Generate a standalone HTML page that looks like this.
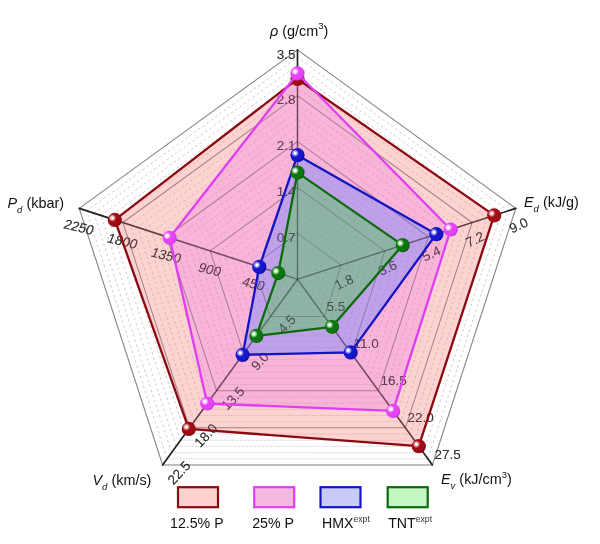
<!DOCTYPE html>
<html><head><meta charset="utf-8"><title>Radar</title>
<style>html,body{margin:0;padding:0;background:#fff}svg{display:block}text{font-family:"Liberation Sans",sans-serif}</style></head><body>
<svg width="600" height="544" viewBox="0 0 600 544">
<defs>
<radialGradient id="gr" cx="0.33" cy="0.36" r="0.75" fx="0.33" fy="0.36"><stop offset="0" stop-color="#ffffff"/><stop offset="0.07" stop-color="#ffffff"/><stop offset="0.19" stop-color="#e8a0a4"/><stop offset="0.36" stop-color="#a00c16"/><stop offset="0.72" stop-color="#a00c16"/><stop offset="1" stop-color="#7a0008"/></radialGradient>
<radialGradient id="gm" cx="0.33" cy="0.36" r="0.75" fx="0.33" fy="0.36"><stop offset="0" stop-color="#ffffff"/><stop offset="0.07" stop-color="#ffffff"/><stop offset="0.19" stop-color="#fbc4ff"/><stop offset="0.36" stop-color="#e443f6"/><stop offset="0.72" stop-color="#e443f6"/><stop offset="1" stop-color="#c52ada"/></radialGradient>
<radialGradient id="gb" cx="0.33" cy="0.36" r="0.75" fx="0.33" fy="0.36"><stop offset="0" stop-color="#ffffff"/><stop offset="0.07" stop-color="#ffffff"/><stop offset="0.19" stop-color="#a8a8f4"/><stop offset="0.36" stop-color="#1616cc"/><stop offset="0.72" stop-color="#1616cc"/><stop offset="1" stop-color="#08088c"/></radialGradient>
<radialGradient id="gg" cx="0.33" cy="0.36" r="0.75" fx="0.33" fy="0.36"><stop offset="0" stop-color="#ffffff"/><stop offset="0.07" stop-color="#ffffff"/><stop offset="0.19" stop-color="#a4d8a4"/><stop offset="0.36" stop-color="#0e760e"/><stop offset="0.72" stop-color="#0e760e"/><stop offset="1" stop-color="#055205"/></radialGradient>
</defs>
<rect width="600" height="544" fill="#ffffff"/>
<g fill="none" stroke="rgba(90,90,90,0.21)" stroke-width="1">
<path d="M290.22,276.94 L297.50,271.65 L304.78,276.94 L302.00,285.49 M293.00,285.49 L290.22,276.94" stroke-dasharray="2.6 2.7"/>
<path d="M293.00,285.49 L302.00,285.49" stroke-dasharray="1.5 1.2"/>
<path d="M282.95,274.57 L297.50,264.00 L312.05,274.57 L306.49,291.68 M288.51,291.68 L282.95,274.57" stroke-dasharray="2.6 2.7"/>
<path d="M288.51,291.68 L306.49,291.68" stroke-dasharray="1.5 1.2"/>
<path d="M275.67,272.21 L297.50,256.35 L319.33,272.21 L310.99,297.87 M284.01,297.87 L275.67,272.21" stroke-dasharray="2.6 2.7"/>
<path d="M284.01,297.87 L310.99,297.87" stroke-dasharray="1.5 1.2"/>
<path d="M268.40,269.84 L297.50,248.70 L326.60,269.84 L315.49,304.06 M279.51,304.06 L268.40,269.84" stroke-dasharray="2.6 2.7"/>
<path d="M279.51,304.06 L315.49,304.06" stroke-dasharray="1.5 1.2"/>
<path d="M261.12,267.48 L297.50,241.05 L333.88,267.48 L319.98,310.24 M275.02,310.24 L261.12,267.48" stroke-dasharray="2.6 2.7"/>
<path d="M275.02,310.24 L319.98,310.24" stroke-dasharray="1.5 1.2"/>
<path d="M246.57,262.75 L297.50,225.75 L348.43,262.75 L328.98,322.62 M266.02,322.62 L246.57,262.75" stroke-dasharray="2.6 2.7"/>
<path d="M266.02,322.62 L328.98,322.62" stroke-dasharray="1.5 1.2"/>
<path d="M239.30,260.39 L297.50,218.10 L355.70,260.39 L333.47,328.81 M261.53,328.81 L239.30,260.39" stroke-dasharray="2.6 2.7"/>
<path d="M261.53,328.81 L333.47,328.81" stroke-dasharray="1.5 1.2"/>
<path d="M232.02,258.02 L297.50,210.45 L362.98,258.02 L337.97,335.00 M257.03,335.00 L232.02,258.02" stroke-dasharray="2.6 2.7"/>
<path d="M257.03,335.00 L337.97,335.00" stroke-dasharray="1.5 1.2"/>
<path d="M224.74,255.66 L297.50,202.80 L370.26,255.66 L342.47,341.19 M252.53,341.19 L224.74,255.66" stroke-dasharray="2.6 2.7"/>
<path d="M252.53,341.19 L342.47,341.19" stroke-dasharray="1.5 1.2"/>
<path d="M217.47,253.30 L297.50,195.15 L377.53,253.30 L346.96,347.38 M248.04,347.38 L217.47,253.30" stroke-dasharray="2.6 2.7"/>
<path d="M248.04,347.38 L346.96,347.38" stroke-dasharray="1.5 1.2"/>
<path d="M202.92,248.57 L297.50,179.85 L392.08,248.57 L355.96,359.76 M239.04,359.76 L202.92,248.57" stroke-dasharray="2.6 2.7"/>
<path d="M239.04,359.76 L355.96,359.76" stroke-dasharray="1.5 1.2"/>
<path d="M195.64,246.20 L297.50,172.20 L399.36,246.20 L360.45,365.95 M234.55,365.95 L195.64,246.20" stroke-dasharray="2.6 2.7"/>
<path d="M234.55,365.95 L360.45,365.95" stroke-dasharray="1.5 1.2"/>
<path d="M188.37,243.84 L297.50,164.55 L406.63,243.84 L364.95,372.13 M230.05,372.13 L188.37,243.84" stroke-dasharray="2.6 2.7"/>
<path d="M230.05,372.13 L364.95,372.13" stroke-dasharray="1.5 1.2"/>
<path d="M181.09,241.48 L297.50,156.90 L413.91,241.48 L369.44,378.32 M225.56,378.32 L181.09,241.48" stroke-dasharray="2.6 2.7"/>
<path d="M225.56,378.32 L369.44,378.32" stroke-dasharray="1.5 1.2"/>
<path d="M173.82,239.11 L297.50,149.25 L421.18,239.11 L373.94,384.51 M221.06,384.51 L173.82,239.11" stroke-dasharray="2.6 2.7"/>
<path d="M221.06,384.51 L373.94,384.51" stroke-dasharray="1.5 1.2"/>
<path d="M159.26,234.38 L297.50,133.95 L435.74,234.38 L382.93,396.89 M212.07,396.89 L159.26,234.38" stroke-dasharray="2.6 2.7"/>
<path d="M212.07,396.89 L382.93,396.89" stroke-dasharray="1.5 1.2"/>
<path d="M151.99,232.02 L297.50,126.30 L443.01,232.02 L387.43,403.08 M207.57,403.08 L151.99,232.02" stroke-dasharray="2.6 2.7"/>
<path d="M207.57,403.08 L387.43,403.08" stroke-dasharray="1.5 1.2"/>
<path d="M144.71,229.66 L297.50,118.65 L450.29,229.66 L391.93,409.27 M203.07,409.27 L144.71,229.66" stroke-dasharray="2.6 2.7"/>
<path d="M203.07,409.27 L391.93,409.27" stroke-dasharray="1.5 1.2"/>
<path d="M137.44,227.29 L297.50,111.00 L457.56,227.29 L396.42,415.46 M198.58,415.46 L137.44,227.29" stroke-dasharray="2.6 2.7"/>
<path d="M198.58,415.46 L396.42,415.46" stroke-dasharray="1.5 1.2"/>
<path d="M130.16,224.93 L297.50,103.35 L464.84,224.93 L400.92,421.65 M194.08,421.65 L130.16,224.93" stroke-dasharray="2.6 2.7"/>
<path d="M194.08,421.65 L400.92,421.65" stroke-dasharray="1.5 1.2"/>
<path d="M115.61,220.20 L297.50,88.05 L479.39,220.20 L409.91,434.02 M185.09,434.02 L115.61,220.20" stroke-dasharray="2.6 2.7"/>
<path d="M185.09,434.02 L409.91,434.02" stroke-dasharray="1.5 1.2"/>
<path d="M108.33,217.84 L297.50,80.40 L486.67,217.84 L414.41,440.21 M180.59,440.21 L108.33,217.84" stroke-dasharray="2.6 2.7"/>
<path d="M180.59,440.21 L414.41,440.21" stroke-dasharray="1.5 1.2"/>
<path d="M101.06,215.47 L297.50,72.75 L493.94,215.47 L418.91,446.40 M176.09,446.40 L101.06,215.47" stroke-dasharray="2.6 2.7"/>
<path d="M176.09,446.40 L418.91,446.40" stroke-dasharray="1.5 1.2"/>
<path d="M93.78,213.11 L297.50,65.10 L501.22,213.11 L423.40,452.59 M171.60,452.59 L93.78,213.11" stroke-dasharray="2.6 2.7"/>
<path d="M171.60,452.59 L423.40,452.59" stroke-dasharray="1.5 1.2"/>
<path d="M86.51,210.74 L297.50,57.45 L508.49,210.74 L427.90,458.78 M167.10,458.78 L86.51,210.74" stroke-dasharray="2.6 2.7"/>
<path d="M167.10,458.78 L427.90,458.78" stroke-dasharray="1.5 1.2"/>
</g>
<g fill="none" stroke="rgba(60,60,60,0.50)" stroke-width="1.05">
<polygon points="297.50,233.40 341.15,265.12 324.48,316.43 270.52,316.43 253.85,265.12"/>
<polygon points="297.50,187.50 384.81,250.93 351.46,353.57 243.54,353.57 210.19,250.93"/>
<polygon points="297.50,141.60 428.46,236.75 378.44,390.70 216.56,390.70 166.54,236.75"/>
<polygon points="297.50,95.70 472.11,222.56 405.42,427.84 189.58,427.84 122.89,222.56"/>
<polygon points="297.50,49.80 515.77,208.38 432.40,464.97 162.60,464.97 79.23,208.38"/>
</g>
<g stroke="rgba(20,20,20,0.92)" stroke-width="1.6" stroke-linecap="round">
<line x1="297.5" y1="279.3" x2="297.50" y2="49.80"/>
<line x1="297.5" y1="279.3" x2="515.77" y2="208.38"/>
<line x1="297.5" y1="279.3" x2="432.40" y2="464.97"/>
<line x1="297.5" y1="279.3" x2="162.60" y2="464.97"/>
<line x1="297.5" y1="279.3" x2="79.23" y2="208.38"/>
</g>
<g fill="rgba(38,38,38,0.80)" font-size="13.5" opacity="0.999">
<text x="295.50" y="242.10" text-anchor="end">0.7</text>
<text x="295.50" y="196.20" text-anchor="end">1.4</text>
<text x="295.50" y="150.30" text-anchor="end">2.1</text>
<text x="295.50" y="104.40" text-anchor="end">2.8</text>
<text x="295.50" y="58.50" text-anchor="end">3.5</text>
<text transform="translate(343.95,281.92) rotate(-25)" text-anchor="middle" y="4.7">1.8</text>
<text transform="translate(387.61,267.73) rotate(-25)" text-anchor="middle" y="4.7">3.6</text>
<text transform="translate(431.26,253.55) rotate(-25)" text-anchor="middle" y="4.7">5.4</text>
<text transform="translate(474.91,239.36) rotate(-25)" text-anchor="middle" y="4.7">7.2</text>
<text transform="translate(518.57,225.18) rotate(-25)" text-anchor="middle" y="4.7">9.0</text>
<text x="326.48" y="310.93" text-anchor="start">5.5</text>
<text x="353.46" y="348.07" text-anchor="start">11.0</text>
<text x="380.44" y="385.20" text-anchor="start">16.5</text>
<text x="407.42" y="422.34" text-anchor="start">22.0</text>
<text x="434.40" y="459.47" text-anchor="start">27.5</text>
<text transform="translate(286.82,324.03) rotate(-47)" text-anchor="middle" y="4.7">4.5</text>
<text transform="translate(259.84,361.17) rotate(-47)" text-anchor="middle" y="4.7">9.0</text>
<text transform="translate(232.86,398.30) rotate(-47)" text-anchor="middle" y="4.7">13.5</text>
<text transform="translate(205.88,435.44) rotate(-47)" text-anchor="middle" y="4.7">18.0</text>
<text transform="translate(178.90,472.57) rotate(-47)" text-anchor="middle" y="4.7">22.5</text>
<text transform="translate(253.65,283.72) rotate(13.5) skewX(-8)" text-anchor="middle" y="4.7">450</text>
<text transform="translate(209.99,269.53) rotate(13.5) skewX(-8)" text-anchor="middle" y="4.7">900</text>
<text transform="translate(166.34,255.35) rotate(13.5) skewX(-8)" text-anchor="middle" y="4.7">1350</text>
<text transform="translate(122.69,241.16) rotate(13.5) skewX(-8)" text-anchor="middle" y="4.7">1800</text>
<text transform="translate(79.03,226.98) rotate(13.5) skewX(-8)" text-anchor="middle" y="4.7">2250</text>
</g>
<polygon points="297.50,78.95 494.16,215.40 418.77,446.22 188.77,428.95 114.81,219.94" fill="rgba(250,150,145,0.42)" stroke="none"/>
<polygon points="297.50,73.44 450.72,229.51 393.14,410.94 207.25,403.51 169.60,237.74" fill="rgba(240,125,225,0.345)" stroke="none"/>
<polygon points="297.50,155.14 436.32,234.20 350.65,352.45 242.60,354.87 259.30,266.89" fill="rgba(128,138,252,0.47)" stroke="none"/>
<polygon points="297.50,172.58 402.70,245.12 332.03,326.83 256.36,335.93 278.29,273.06" fill="rgba(90,200,95,0.48)" stroke="none"/>
<g fill="none" stroke="rgba(70,60,70,0.075)" stroke-width="1">
<path d="M290.22,276.94 L297.50,271.65 L304.78,276.94 L302.00,285.49 M293.00,285.49 L290.22,276.94" stroke-dasharray="2.6 2.7"/>
<path d="M293.00,285.49 L302.00,285.49" stroke-dasharray="1.5 1.2"/>
<path d="M282.95,274.57 L297.50,264.00 L312.05,274.57 L306.49,291.68 M288.51,291.68 L282.95,274.57" stroke-dasharray="2.6 2.7"/>
<path d="M288.51,291.68 L306.49,291.68" stroke-dasharray="1.5 1.2"/>
<path d="M275.67,272.21 L297.50,256.35 L319.33,272.21 L310.99,297.87 M284.01,297.87 L275.67,272.21" stroke-dasharray="2.6 2.7"/>
<path d="M284.01,297.87 L310.99,297.87" stroke-dasharray="1.5 1.2"/>
<path d="M268.40,269.84 L297.50,248.70 L326.60,269.84 L315.49,304.06 M279.51,304.06 L268.40,269.84" stroke-dasharray="2.6 2.7"/>
<path d="M279.51,304.06 L315.49,304.06" stroke-dasharray="1.5 1.2"/>
<path d="M261.12,267.48 L297.50,241.05 L333.88,267.48 L319.98,310.24 M275.02,310.24 L261.12,267.48" stroke-dasharray="2.6 2.7"/>
<path d="M275.02,310.24 L319.98,310.24" stroke-dasharray="1.5 1.2"/>
<path d="M246.57,262.75 L297.50,225.75 L348.43,262.75 L328.98,322.62 M266.02,322.62 L246.57,262.75" stroke-dasharray="2.6 2.7"/>
<path d="M266.02,322.62 L328.98,322.62" stroke-dasharray="1.5 1.2"/>
<path d="M239.30,260.39 L297.50,218.10 L355.70,260.39 L333.47,328.81 M261.53,328.81 L239.30,260.39" stroke-dasharray="2.6 2.7"/>
<path d="M261.53,328.81 L333.47,328.81" stroke-dasharray="1.5 1.2"/>
<path d="M232.02,258.02 L297.50,210.45 L362.98,258.02 L337.97,335.00 M257.03,335.00 L232.02,258.02" stroke-dasharray="2.6 2.7"/>
<path d="M257.03,335.00 L337.97,335.00" stroke-dasharray="1.5 1.2"/>
<path d="M224.74,255.66 L297.50,202.80 L370.26,255.66 L342.47,341.19 M252.53,341.19 L224.74,255.66" stroke-dasharray="2.6 2.7"/>
<path d="M252.53,341.19 L342.47,341.19" stroke-dasharray="1.5 1.2"/>
<path d="M217.47,253.30 L297.50,195.15 L377.53,253.30 L346.96,347.38 M248.04,347.38 L217.47,253.30" stroke-dasharray="2.6 2.7"/>
<path d="M248.04,347.38 L346.96,347.38" stroke-dasharray="1.5 1.2"/>
<path d="M202.92,248.57 L297.50,179.85 L392.08,248.57 L355.96,359.76 M239.04,359.76 L202.92,248.57" stroke-dasharray="2.6 2.7"/>
<path d="M239.04,359.76 L355.96,359.76" stroke-dasharray="1.5 1.2"/>
<path d="M195.64,246.20 L297.50,172.20 L399.36,246.20 L360.45,365.95 M234.55,365.95 L195.64,246.20" stroke-dasharray="2.6 2.7"/>
<path d="M234.55,365.95 L360.45,365.95" stroke-dasharray="1.5 1.2"/>
<path d="M188.37,243.84 L297.50,164.55 L406.63,243.84 L364.95,372.13 M230.05,372.13 L188.37,243.84" stroke-dasharray="2.6 2.7"/>
<path d="M230.05,372.13 L364.95,372.13" stroke-dasharray="1.5 1.2"/>
<path d="M181.09,241.48 L297.50,156.90 L413.91,241.48 L369.44,378.32 M225.56,378.32 L181.09,241.48" stroke-dasharray="2.6 2.7"/>
<path d="M225.56,378.32 L369.44,378.32" stroke-dasharray="1.5 1.2"/>
<path d="M173.82,239.11 L297.50,149.25 L421.18,239.11 L373.94,384.51 M221.06,384.51 L173.82,239.11" stroke-dasharray="2.6 2.7"/>
<path d="M221.06,384.51 L373.94,384.51" stroke-dasharray="1.5 1.2"/>
<path d="M159.26,234.38 L297.50,133.95 L435.74,234.38 L382.93,396.89 M212.07,396.89 L159.26,234.38" stroke-dasharray="2.6 2.7"/>
<path d="M212.07,396.89 L382.93,396.89" stroke-dasharray="1.5 1.2"/>
<path d="M151.99,232.02 L297.50,126.30 L443.01,232.02 L387.43,403.08 M207.57,403.08 L151.99,232.02" stroke-dasharray="2.6 2.7"/>
<path d="M207.57,403.08 L387.43,403.08" stroke-dasharray="1.5 1.2"/>
<path d="M144.71,229.66 L297.50,118.65 L450.29,229.66 L391.93,409.27 M203.07,409.27 L144.71,229.66" stroke-dasharray="2.6 2.7"/>
<path d="M203.07,409.27 L391.93,409.27" stroke-dasharray="1.5 1.2"/>
<path d="M137.44,227.29 L297.50,111.00 L457.56,227.29 L396.42,415.46 M198.58,415.46 L137.44,227.29" stroke-dasharray="2.6 2.7"/>
<path d="M198.58,415.46 L396.42,415.46" stroke-dasharray="1.5 1.2"/>
<path d="M130.16,224.93 L297.50,103.35 L464.84,224.93 L400.92,421.65 M194.08,421.65 L130.16,224.93" stroke-dasharray="2.6 2.7"/>
<path d="M194.08,421.65 L400.92,421.65" stroke-dasharray="1.5 1.2"/>
<path d="M115.61,220.20 L297.50,88.05 L479.39,220.20 L409.91,434.02 M185.09,434.02 L115.61,220.20" stroke-dasharray="2.6 2.7"/>
<path d="M185.09,434.02 L409.91,434.02" stroke-dasharray="1.5 1.2"/>
<path d="M108.33,217.84 L297.50,80.40 L486.67,217.84 L414.41,440.21 M180.59,440.21 L108.33,217.84" stroke-dasharray="2.6 2.7"/>
<path d="M180.59,440.21 L414.41,440.21" stroke-dasharray="1.5 1.2"/>
<path d="M101.06,215.47 L297.50,72.75 L493.94,215.47 L418.91,446.40 M176.09,446.40 L101.06,215.47" stroke-dasharray="2.6 2.7"/>
<path d="M176.09,446.40 L418.91,446.40" stroke-dasharray="1.5 1.2"/>
<path d="M93.78,213.11 L297.50,65.10 L501.22,213.11 L423.40,452.59 M171.60,452.59 L93.78,213.11" stroke-dasharray="2.6 2.7"/>
<path d="M171.60,452.59 L423.40,452.59" stroke-dasharray="1.5 1.2"/>
<path d="M86.51,210.74 L297.50,57.45 L508.49,210.74 L427.90,458.78 M167.10,458.78 L86.51,210.74" stroke-dasharray="2.6 2.7"/>
<path d="M167.10,458.78 L427.90,458.78" stroke-dasharray="1.5 1.2"/>
</g>
<g fill="none" stroke="rgba(50,45,50,0.20)" stroke-width="1.05">
<polygon points="297.50,233.40 341.15,265.12 324.48,316.43 270.52,316.43 253.85,265.12"/>
<polygon points="297.50,187.50 384.81,250.93 351.46,353.57 243.54,353.57 210.19,250.93"/>
<polygon points="297.50,141.60 428.46,236.75 378.44,390.70 216.56,390.70 166.54,236.75"/>
<polygon points="297.50,95.70 472.11,222.56 405.42,427.84 189.58,427.84 122.89,222.56"/>
<polygon points="297.50,49.80 515.77,208.38 432.40,464.97 162.60,464.97 79.23,208.38"/>
</g>
<g stroke="rgba(30,25,30,0.36)" stroke-width="1.2" stroke-linecap="round">
<line x1="297.5" y1="279.3" x2="297.50" y2="49.80"/>
<line x1="297.5" y1="279.3" x2="515.77" y2="208.38"/>
<line x1="297.5" y1="279.3" x2="432.40" y2="464.97"/>
<line x1="297.5" y1="279.3" x2="162.60" y2="464.97"/>
<line x1="297.5" y1="279.3" x2="79.23" y2="208.38"/>
</g>
<g fill="rgba(38,28,38,0.60)" font-size="13.5" opacity="0.999">
<text x="295.50" y="242.10" text-anchor="end">0.7</text>
<text x="295.50" y="196.20" text-anchor="end">1.4</text>
<text x="295.50" y="150.30" text-anchor="end">2.1</text>
<text x="295.50" y="104.40" text-anchor="end">2.8</text>
<text x="295.50" y="58.50" text-anchor="end">3.5</text>
<text transform="translate(343.95,281.92) rotate(-25)" text-anchor="middle" y="4.7">1.8</text>
<text transform="translate(387.61,267.73) rotate(-25)" text-anchor="middle" y="4.7">3.6</text>
<text transform="translate(431.26,253.55) rotate(-25)" text-anchor="middle" y="4.7">5.4</text>
<text transform="translate(474.91,239.36) rotate(-25)" text-anchor="middle" y="4.7">7.2</text>
<text transform="translate(518.57,225.18) rotate(-25)" text-anchor="middle" y="4.7">9.0</text>
<text x="326.48" y="310.93" text-anchor="start">5.5</text>
<text x="353.46" y="348.07" text-anchor="start">11.0</text>
<text x="380.44" y="385.20" text-anchor="start">16.5</text>
<text x="407.42" y="422.34" text-anchor="start">22.0</text>
<text x="434.40" y="459.47" text-anchor="start">27.5</text>
<text transform="translate(286.82,324.03) rotate(-47)" text-anchor="middle" y="4.7">4.5</text>
<text transform="translate(259.84,361.17) rotate(-47)" text-anchor="middle" y="4.7">9.0</text>
<text transform="translate(232.86,398.30) rotate(-47)" text-anchor="middle" y="4.7">13.5</text>
<text transform="translate(205.88,435.44) rotate(-47)" text-anchor="middle" y="4.7">18.0</text>
<text transform="translate(178.90,472.57) rotate(-47)" text-anchor="middle" y="4.7">22.5</text>
<text transform="translate(253.65,283.72) rotate(13.5) skewX(-8)" text-anchor="middle" y="4.7">450</text>
<text transform="translate(209.99,269.53) rotate(13.5) skewX(-8)" text-anchor="middle" y="4.7">900</text>
<text transform="translate(166.34,255.35) rotate(13.5) skewX(-8)" text-anchor="middle" y="4.7">1350</text>
<text transform="translate(122.69,241.16) rotate(13.5) skewX(-8)" text-anchor="middle" y="4.7">1800</text>
<text transform="translate(79.03,226.98) rotate(13.5) skewX(-8)" text-anchor="middle" y="4.7">2250</text>
</g>
<polygon points="297.50,78.95 494.16,215.40 418.77,446.22 188.77,428.95 114.81,219.94" fill="none" stroke="#8b0a12" stroke-width="2.3" stroke-linejoin="round"/>
<circle cx="297.50" cy="78.95" r="7.1" fill="url(#gr)"/>
<circle cx="494.16" cy="215.40" r="7.1" fill="url(#gr)"/>
<circle cx="418.77" cy="446.22" r="7.1" fill="url(#gr)"/>
<circle cx="188.77" cy="428.95" r="7.1" fill="url(#gr)"/>
<circle cx="114.81" cy="219.94" r="7.1" fill="url(#gr)"/>
<polygon points="297.50,73.44 450.72,229.51 393.14,410.94 207.25,403.51 169.60,237.74" fill="none" stroke="#df3ef5" stroke-width="2.3" stroke-linejoin="round"/>
<circle cx="297.50" cy="73.44" r="7.1" fill="url(#gm)"/>
<circle cx="450.72" cy="229.51" r="7.1" fill="url(#gm)"/>
<circle cx="393.14" cy="410.94" r="7.1" fill="url(#gm)"/>
<circle cx="207.25" cy="403.51" r="7.1" fill="url(#gm)"/>
<circle cx="169.60" cy="237.74" r="7.1" fill="url(#gm)"/>
<polygon points="297.50,155.14 436.32,234.20 350.65,352.45 242.60,354.87 259.30,266.89" fill="none" stroke="#1414c4" stroke-width="2.3" stroke-linejoin="round"/>
<circle cx="297.50" cy="155.14" r="7.1" fill="url(#gb)"/>
<circle cx="436.32" cy="234.20" r="7.1" fill="url(#gb)"/>
<circle cx="350.65" cy="352.45" r="7.1" fill="url(#gb)"/>
<circle cx="242.60" cy="354.87" r="7.1" fill="url(#gb)"/>
<circle cx="259.30" cy="266.89" r="7.1" fill="url(#gb)"/>
<polygon points="297.50,172.58 402.70,245.12 332.03,326.83 256.36,335.93 278.29,273.06" fill="none" stroke="#0b6b0b" stroke-width="2.3" stroke-linejoin="round"/>
<circle cx="297.50" cy="172.58" r="7.1" fill="url(#gg)"/>
<circle cx="402.70" cy="245.12" r="7.1" fill="url(#gg)"/>
<circle cx="332.03" cy="326.83" r="7.1" fill="url(#gg)"/>
<circle cx="256.36" cy="335.93" r="7.1" fill="url(#gg)"/>
<circle cx="278.29" cy="273.06" r="7.1" fill="url(#gg)"/>
<g fill="#111111" font-size="14.4" opacity="0.999">
<text x="270" y="35.5"><tspan font-style="italic">ρ</tspan> (g/cm<tspan font-size="9.5" dy="-6.3">3</tspan><tspan dy="6.3">)</tspan></text>
<text x="524" y="207"><tspan font-style="italic">E</tspan><tspan font-style="italic" font-size="9.5" dy="4.8">d</tspan><tspan dy="-4.8"> (kJ/g)</tspan></text>
<text x="441" y="484"><tspan font-style="italic">E</tspan><tspan font-style="italic" font-size="9.5" dy="4.8">v</tspan><tspan dy="-4.8"> (kJ/cm</tspan><tspan font-size="9.5" dy="-6.3">3</tspan><tspan dy="6.3">)</tspan></text>
<text x="92.5" y="485"><tspan font-style="italic">V</tspan><tspan font-style="italic" font-size="9.5" dy="4.8">d</tspan><tspan dy="-4.8"> (km/s)</tspan></text>
<text x="7.5" y="208"><tspan font-style="italic">P</tspan><tspan font-style="italic" font-size="9.5" dy="4.8">d</tspan><tspan dy="-4.8"> (kbar)</tspan></text>
</g>
<rect x="178" y="487.2" width="40" height="20" fill="#fdd1cf" stroke="#8b0a12" stroke-width="2.2"/>
<text x="170" y="527.5" font-size="14.2" fill="#111111" opacity="0.999">12.5% P</text>
<rect x="254.2" y="487.2" width="40" height="20" fill="#f6b8df" stroke="#df3ef5" stroke-width="2.2"/>
<text x="252.2" y="527.5" font-size="14.2" fill="#111111" opacity="0.999">25% P</text>
<rect x="320.5" y="487.2" width="40" height="20" fill="#c8cbf8" stroke="#1414c4" stroke-width="2.2"/>
<text x="322" y="527.5" font-size="14.2" fill="#111111" opacity="0.999">HMX<tspan font-size="8.6" dy="-5.8" fill="#333">expt</tspan></text>
<rect x="387.7" y="487.2" width="40" height="20" fill="#c2f6c2" stroke="#0b6b0b" stroke-width="2.2"/>
<text x="388.2" y="527.5" font-size="14.2" fill="#111111" opacity="0.999">TNT<tspan font-size="8.6" dy="-5.8" fill="#333">expt</tspan></text>
</svg></body></html>
